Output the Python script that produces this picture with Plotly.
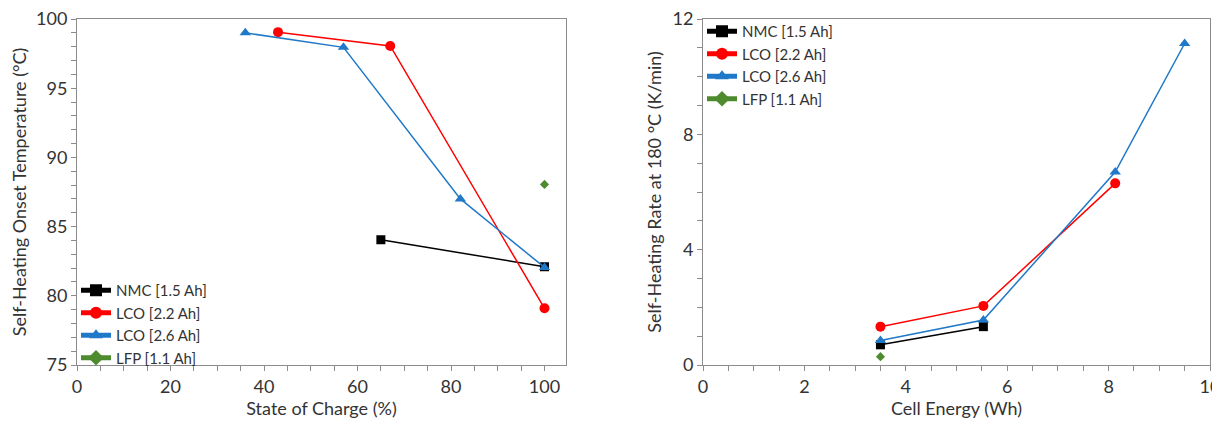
import plotly.graph_objects as go

# ---- Left panel data: State of Charge (%) vs onset temperature (°C)
soc_nmc = [65, 100]
temp_nmc = [84.05, 82.1]
soc_lco22 = [43, 67, 100]
temp_lco22 = [99.05, 98.05, 79.1]
soc_lco26 = [36, 57, 82, 100]
temp_lco26 = [99.0, 97.95, 87.0, 82.05]
soc_lfp = [100]
temp_lfp = [88.05]

# ---- Right panel data: Cell energy (Wh) vs self-heating rate (K/min)
en_nmc = [3.5, 5.53]
rate_nmc = [0.7, 1.33]
en_lco22 = [3.5, 5.53, 8.13]
rate_lco22 = [1.33, 2.05, 6.3]
en_lco26 = [3.5, 5.53, 8.13, 9.5]
rate_lco26 = [0.85, 1.56, 6.69, 11.15]
en_lfp = [3.5]
rate_lfp = [0.29]

names = ["NMC [1.5 Ah]", "LCO [2.2 Ah]", "LCO [2.6 Ah]", "LFP [1.1 Ah]"]
colors = ["#000000", "#FF0000", "#1F78C8", "#4E8A2E"]
symbols = ["square", "circle", "triangle-up", "diamond"]
msizes = [9, 10, 10, 7]

FONT = "Lato, Carlito, 'Liberation Sans', sans-serif"
TXT = "#333333"

W, H = 1212, 415  # page body has an 8px margin in the 1220x423 window
OFF = 8

def px_x(p):
    return (p - OFF) / W

def px_y(p):
    return (H - (p - OFF)) / H

fig = go.Figure()

left = [(soc_nmc, temp_nmc), (soc_lco22, temp_lco22), (soc_lco26, temp_lco26), (soc_lfp, temp_lfp)]
right = [(en_nmc, rate_nmc), (en_lco22, rate_lco22), (en_lco26, rate_lco26), (en_lfp, rate_lfp)]

for i, (x, y) in enumerate(left):
    fig.add_trace(go.Scatter(
        x=x, y=y, name=names[i], mode="lines+markers",
        line=dict(color=colors[i], width=1.5),
        marker=dict(symbol=symbols[i], size=msizes[i], color=colors[i]),
        xaxis="x", yaxis="y", legend="legend"))

for i, (x, y) in enumerate(right):
    fig.add_trace(go.Scatter(
        x=x, y=y, name=names[i], mode="lines+markers",
        line=dict(color=colors[i], width=1.5),
        marker=dict(symbol=symbols[i], size=msizes[i], color=colors[i]),
        xaxis="x2", yaxis="y2", legend="legend2"))

axis_common = dict(
    showline=True, linecolor="#8C8C8C", linewidth=1, mirror=True,
    showgrid=False, zeroline=False, automargin=False,
    ticks="outside", ticklen=5, tickcolor="#8C8C8C", tickwidth=1,
    tickfont=dict(family=FONT, size=18, color=TXT),
    ticklabeloverflow="allow",
)
title_font = dict(family=FONT, size=18, color=TXT)
minor_common = dict(ticks="outside", ticklen=5, tickcolor="#8C8C8C")
legend_font = dict(family=FONT, size=15, color=TXT)

ydom = [px_y(365), px_y(19)]

fig.update_layout(
    width=W, height=H,
    margin=dict(l=0, r=0, t=0, b=0, autoexpand=False),
    paper_bgcolor="white", plot_bgcolor="white",
    font=dict(family=FONT, color=TXT),
    xaxis=dict(domain=[px_x(77), px_x(566)], range=[0, 104.6], tickvals=[0, 20, 40, 60, 80, 100],
               minor=dict(dtick=5, **minor_common),
               title=dict(text="State of Charge (%)", font=title_font, standoff=6),
               anchor="y", **axis_common),
    yaxis=dict(domain=ydom, range=[75, 100], dtick=5,
               minor=dict(dtick=1, **minor_common),
               title=dict(text="Self-Heating Onset Temperature (°C)", font=title_font, standoff=6),
               anchor="x", **axis_common),
    xaxis2=dict(domain=[px_x(703), px_x(1210)], range=[0, 10], dtick=2,
                minor=dict(dtick=0.5, **minor_common),
                title=dict(text="Cell Energy (Wh)", font=title_font, standoff=6),
                anchor="y2", **axis_common),
    yaxis2=dict(domain=ydom, range=[0, 12], dtick=4,
                minor=dict(dtick=1, **minor_common),
                title=dict(text="Self-Heating Rate at 180 °C (K/min)", font=title_font, standoff=6),
                anchor="x2", **axis_common),
    legend=dict(x=68 / W, y=(H - 266) / H, xanchor="left", yanchor="top",
                bgcolor="rgba(0,0,0,0)", font=legend_font,
                itemwidth=30, tracegroupgap=0, itemsizing="constant"),
    legend2=dict(x=694 / W, y=(H - 7) / H, xanchor="left", yanchor="top",
                 bgcolor="rgba(0,0,0,0)", font=legend_font,
                 itemwidth=30, tracegroupgap=0, itemsizing="constant"),
)

fig.write_html("out.html")
